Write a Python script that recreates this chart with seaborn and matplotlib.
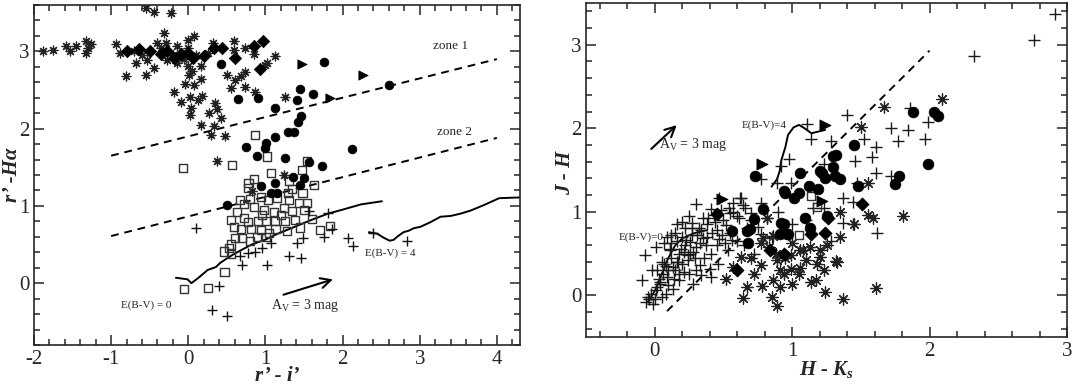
import numpy as np
import seaborn as sns
import matplotlib.pyplot as plt
from matplotlib.ticker import MultipleLocator

# ---------------- left panel: r' - i' vs r' - Halpha ----------------
left_star_x = [-1.88, -1.76, -1.59, -1.53, -1.45, -1.32, -1.30, -1.32, -1.26, -0.94, -0.89, -0.68,
               -0.55, -0.81, -0.53, -0.45, -0.40, -0.32, -0.29, -0.27, -0.19, -0.10, 0.02, 0.03,
               0.02, 0.12, 0.18, -0.04, 0.07, 0.16, 0.16, -0.01, 0.01, -0.01, 0.07, 0.16, 0.29,
               0.27, 0.35, 0.37, 0.33, 0.42, 0.48, 0.50, 0.55, 0.61, 0.68, 0.74, 0.74, 0.87, 0.59,
               0.59, 0.74, 0.85, 1.02, 0.32, -0.55, -0.44, -0.23, 0.37, -0.08, -0.14, 1.12, 1.00,
               1.26, 1.24, -0.70, -0.60, -0.20, -0.05, 0.10, 0.25, -0.35, 0.00, -0.15, 0.05, 0.83]
left_star_y = [3.01, 3.02, 3.07, 3.00, 3.07, 3.13, 3.04, 2.98, 3.09, 3.10, 2.98, 2.85,
               2.69, 2.68, 2.89, 2.78, 3.11, 3.24, 3.11, 2.89, 2.47, 2.35, 2.41, 2.27,
               2.18, 2.37, 2.42, 2.58, 2.57, 2.64, 2.81, 2.81, 2.70, 3.15, 3.20, 2.05, 1.92,
               2.20, 2.33, 2.25, 2.04, 2.14, 1.90, 2.70, 2.53, 2.63, 2.68, 2.73, 2.54, 2.48, 3.13,
               3.02, 3.04, 2.96, 2.85, 3.11, 3.56, 3.51, 3.50, 1.58, 2.98, 3.07, 2.94, 2.83,
               2.41, 1.40, 3.00, 2.95, 2.95, 2.90, 2.95, 2.98, 3.05, 3.05, 2.85, 2.75, 1.19]

left_diam_x = [-0.79, -0.64, -0.49, -0.36, -0.27, -0.10, 0.06, 0.21, 0.33, 0.44, 0.61, 0.85, 0.97, 0.93, -0.18, 0.00]
left_diam_y = [3.01, 3.03, 3.00, 2.96, 3.00, 2.96, 2.91, 2.94, 3.04, 3.04, 2.91, 3.07, 3.13, 2.77, 2.92, 2.98]

left_circ_x = [0.42, 0.64, 0.91, 1.76, 2.60, 1.45, 1.62, 1.41, 1.13, 1.46, 1.42, 1.29, 1.37, 1.12, 1.01,
               0.99, 0.75, 0.89, 1.25, 2.12, 1.57, 1.73, 0.94, 1.13, 1.36, 1.50, 1.07, 1.15, 1.45, 0.50]
left_circ_y = [2.84, 2.38, 2.40, 2.86, 2.57, 2.51, 2.45, 2.37, 2.27, 2.17, 2.08, 1.96, 1.96, 1.89, 1.81,
               1.75, 1.76, 1.64, 1.62, 1.74, 1.57, 1.52, 1.26, 1.30, 1.38, 1.36, 1.17, 1.17, 1.27, 1.01]

left_tri_x = [1.48, 2.27, 1.84]
left_tri_y = [2.84, 2.70, 2.40]

left_sq_x = [-0.07, 0.57, 0.87, 1.02, 1.54, 1.07, 1.31, 0.78, 0.85, 0.77, 0.67, 0.80, 0.94, 1.03, 1.35,
             1.48, 1.63, 1.54, 1.43, 0.63, 0.85, 0.98, 1.11, 1.24, 1.35, 0.55, 0.72, 0.77, 0.90, 1.01,
             1.12, 1.25, 1.38, 1.60, 0.59, 0.68, 0.81, 0.94, 1.13, 1.28, 1.84, 1.71, 0.60, 0.70, 0.80,
             0.89, 1.01, 0.55, 0.53, 0.46, 0.55, 0.47, -0.05, 0.25, 1.47, 1.29, 1.15, 1.20, 0.72, 1.45,
             1.05, 0.95, 1.30, 1.50]
left_sq_y = [1.49, 1.53, 1.92, 1.64, 1.58, 1.43, 1.32, 1.30, 1.35, 1.23, 1.08, 1.09, 1.12, 1.08, 1.22,
             1.17, 1.27, 1.04, 1.04, 0.92, 0.99, 0.95, 0.92, 0.97, 0.93, 0.82, 0.84, 0.79, 0.80, 0.80,
             0.81, 0.80, 0.82, 0.83, 0.73, 0.70, 0.70, 0.69, 0.70, 0.67, 0.74, 0.69, 0.58, 0.58, 0.55,
             0.60, 0.60, 0.50, 0.45, 0.41, 0.38, 0.14, -0.08, -0.06, 1.47, 1.17, 1.10, 0.88, 1.02, 0.72,
             0.65, 0.88, 1.08, 0.95]

left_plus_x = [0.10, 1.57, 1.81, 1.86, 1.76, 1.49, 1.41, 1.30, 1.46, 1.02, 0.70, 0.77, 0.87, 0.96,
               1.07, 0.67, 2.07, 2.14, 2.39, 2.84, 0.40, 0.31, 0.50]
left_plus_y = [0.71, 0.93, 0.91, 0.70, 0.60, 0.58, 0.52, 0.35, 0.32, 0.24, 0.24, 0.39, 0.41, 0.45,
               0.52, 0.35, 0.58, 0.48, 0.65, 0.55, -0.03, -0.35, -0.43]

# zone boundaries
zone1_x = [-1.0, 4.0]
zone1_y = [1.65, 2.90]
zone2_x = [-1.0, 4.0]
zone2_y = [0.61, 1.88]

# unreddened track (E(B-V)=0) and reddened track (E(B-V)=4)
ms0_x = [-0.16, -0.01, 0.04, 0.12, 0.25, 0.36, 0.41, 0.50, 0.58, 0.69, 0.82, 0.99, 1.16, 1.38,
         1.60, 1.81, 2.03, 2.24, 2.51]
ms0_y = [0.07, 0.05, 0.00, 0.06, 0.17, 0.21, 0.26, 0.32, 0.37, 0.43, 0.50, 0.56, 0.64, 0.73,
         0.82, 0.90, 0.96, 1.02, 1.06]
ms4_x = [2.34, 2.45, 2.53, 2.61, 2.66, 2.72, 2.79, 2.86, 2.92, 3.01, 3.14, 3.27, 3.40, 3.53,
         3.66, 3.83, 4.03, 4.31]
ms4_y = [0.66, 0.64, 0.59, 0.55, 0.56, 0.61, 0.66, 0.68, 0.71, 0.73, 0.79, 0.86, 0.87, 0.90,
         0.94, 1.01, 1.10, 1.11]

# ---------------- right panel: H - Ks vs J - H ----------------
right_plus_x = [2.91, 2.76, 2.32, 1.40, 1.86, 1.72, 1.84, 1.77, 1.99, 1.97, 1.61, 1.52, 1.58, 1.46,
                1.61, 1.72, 1.28, 1.14, 1.23, 1.47, 1.37, 1.11, 0.98, 0.92, 0.89, 0.99, 0.77, 0.62,
                0.47, 1.44, 1.28, 1.62, 1.44, 1.37, 1.23,
                0.30, 0.16, -0.07, 0.01, -0.09, 0.63, 0.77, 0.57, 0.41, 0.35, 0.27, 0.67, 0.77, 0.60,
                0.47, 0.53, 0.41, 0.41, 0.33, 0.24, 0.28, 0.33, 0.16, 0.09, 0.11, 0.05, 0.13, 0.21,
                0.09, 0.04, 0.01, -0.04, -0.06, -0.01,
                0.15, 0.20, 0.22, 0.18, 0.12, 0.08, 0.15, 0.25, 0.06, 0.02, 0.10, 0.18, 0.30, 0.20,
                0.26, 0.30, 0.38, 0.45, 0.50, 0.55, 0.22, 0.12, 0.05, -0.03, 0.36, 0.45, 0.60, 0.70,
                0.38, 0.25, 0.55, 0.65, 0.72, 1.00, 1.10, 1.15, 0.90, 0.85, -0.02,
                0.03, 0.07, 0.11, 0.14, 0.17, 0.19, 0.23, 0.27, 0.29, 0.32, 0.35, 0.39, 0.43, 0.48,
                0.52, 0.57, 0.61, 0.66, 0.08, 0.13, 0.18, 0.24, 0.28, 0.34, 0.40, 0.46, 0.51, 0.56,
                0.00, 0.04, 0.10, 0.16, 0.21, 0.26, 0.31, 0.37, 0.42, 0.49, -0.05, 0.02, 0.07, 0.12,
                0.20, 0.27, 0.34, 0.44, 0.54, 0.64, 0.70, 0.75, 0.82]
right_plus_y = [3.37, 3.06, 2.86, 2.16, 2.24, 2.00, 1.98, 1.85, 2.08, 1.87, 1.77, 1.87, 1.66, 1.61,
                1.47, 1.43, 1.85, 1.87, 1.57, 1.35, 1.17, 2.05, 1.63, 1.55, 1.35, 1.34, 1.39, 1.17,
                1.17, 1.12, 0.65, 0.75, 0.85, 0.87, 1.05,
                1.09, 0.85, 0.48, 0.58, 0.18, 1.17, 1.11, 1.11, 1.03, 0.93, 0.87, 0.81, 0.73, 0.65,
                0.67, 0.54, 0.50, 0.22, 0.36, 0.42, 0.52, 0.62, 0.65, 0.70, 0.54, 0.40, 0.34, 0.28,
                0.22, 0.14, 0.06, -0.04, -0.08, -0.10,
                0.75, 0.70, 0.60, 0.50, 0.45, 0.35, 0.30, 0.25, 0.25, 0.10, 0.12, 0.18, 0.30, 0.38,
                0.50, 0.58, 0.70, 0.78, 0.90, 0.98, 0.80, 0.62, -0.02, 0.02, 0.45, 0.60, 0.95, 0.90,
                0.85, 0.95, 0.75, 0.60, 0.50, 0.85, 0.90, 1.05, 1.00, 0.70, 0.30,
                0.20, 0.38, 0.55, 0.20, 0.40, 0.55, 0.66, 0.72, 0.45, 0.80, 0.68, 0.92, 0.96, 1.02,
                0.84, 1.00, 0.92, 1.04, 0.02, 0.08, 0.26, 0.48, 0.14, 0.24, 0.32, 0.38, 0.62, 0.66,
                -0.05, 0.16, 0.30, 0.40, 0.52, 0.64, 0.72, 0.60, 0.75, 0.72, -0.02, 0.30, 0.62, 0.72,
                0.88, 0.80, 0.78, 0.88, 1.05, 1.08, 0.98, 0.82, 0.92]

right_star_x = [2.09, 1.67, 1.50, 1.55, 1.81, 1.61, 1.37, 1.24, 1.17, 1.32, 1.35, 1.59, 1.55, 1.45,
                1.35, 1.20, 1.18, 0.64, 0.85, 0.89, 0.78, 1.00, 1.14, 0.52, 0.77, 0.86, 0.91, 0.99,
                1.06, 0.89, 0.99, 1.06, 1.13, 0.77, 0.83, 0.63, 0.57, 0.86, 0.82, 1.33, 0.91, 0.72,
                0.67, 0.79, 1.00, 1.08, 1.20, 1.23, 0.94, 1.05, 0.95, 1.10, 0.88, 0.70, 1.25]
right_star_y = [2.35, 2.26, 2.01, 1.34, 0.95, 0.09, -0.04, 0.04, 0.18, 0.41, 0.70, 0.92, 0.96, 0.85,
                1.00, 0.54, 0.38, -0.03, -0.02, -0.13, 0.11, 0.13, 0.16, 0.19, 0.36, 0.18, 0.30, 0.32,
                0.33, 0.42, 0.48, 0.54, 0.58, 0.63, 0.58, 0.46, 0.34, 0.71, 0.93, 0.40, 0.10, 0.26,
                0.10, 0.69, 0.62, 0.54, 0.46, 0.30, 0.26, 0.25, 0.45, 0.42, 0.50, 0.45, 0.60]

right_circ_x = [1.88, 2.03, 2.06, 1.45, 1.32, 1.30, 1.30, 1.22, 1.24, 1.31, 1.35, 1.78, 1.75, 1.99,
                1.48, 1.19, 0.73, 1.06, 0.94, 1.05, 1.12, 1.01, 0.79, 1.09, 0.92, 1.25, 0.72, 0.69,
                0.67, 0.91, 0.96, 1.13, 0.68, 0.56, 0.94, 0.97, 0.95, 1.20]
right_circ_y = [2.19, 2.19, 2.15, 1.80, 1.68, 1.67, 1.53, 1.47, 1.41, 1.43, 1.39, 1.43, 1.33, 1.57,
                1.31, 1.27, 1.43, 1.47, 1.25, 1.23, 1.31, 1.17, 1.03, 0.93, 0.87, 0.95, 0.91, 0.79,
                0.77, 0.73, 0.73, 0.81, 0.63, 0.77, 0.85, 0.73, 1.23, 1.49]

right_diam_x = [0.45, 0.60, 0.84, 0.94, 1.26, 1.14, 1.51, 1.24]
right_diam_y = [0.97, 0.30, 0.54, 0.49, 0.93, 0.73, 1.09, 0.75]

right_tri_x = [1.24, 0.78, 1.22, 0.49]
right_tri_y = [2.04, 1.57, 1.13, 1.15]

right_sq_x = [1.14, 1.18, 1.05]
right_sq_y = [1.19, 1.06, 0.72]

redline_x = [0.09, 2.0]
redline_y = [-0.19, 2.93]

nir0_x = [-0.05, 0.00, 0.05, 0.10, 0.15, 0.20, 0.28, 0.38]
nir0_y = [-0.08, 0.05, 0.25, 0.45, 0.60, 0.68, 0.74, 0.78]
nir4_x = [0.85, 0.89, 0.91, 0.92, 0.95, 0.97, 1.01, 1.05, 1.09, 1.14, 1.19, 1.24]
nir4_y = [1.30, 1.39, 1.49, 1.61, 1.77, 1.92, 2.01, 2.04, 2.00, 1.94, 1.96, 1.98]

sns.set_style("ticks")
plt.rcParams['font.family'] = ['Liberation Serif', 'DejaVu Serif']
plt.rcParams['axes.unicode_minus'] = False
plt.rcParams['mathtext.fontset'] = 'custom'
plt.rcParams['mathtext.rm'] = 'Liberation Serif'
plt.rcParams['mathtext.it'] = 'Liberation Serif:italic'
plt.rcParams['mathtext.bf'] = 'Liberation Serif:bold:italic'

ASTER = (8, 2, 0)

fig = plt.figure(figsize=(10.72, 3.84), dpi=100)
ax1 = fig.add_axes([34 / 1072, 39 / 384, 486 / 1072, 340 / 384])
ax2 = fig.add_axes([586 / 1072, 47 / 384, 481 / 1072, 334 / 384])


def pts(ax, x, y, marker, s, lw=1.0, filled=True, open_edge=None, color='#111111'):
    if open_edge is not None:
        sns.scatterplot(x=x, y=y, ax=ax, marker=marker, s=s, facecolor='none',
                        edgecolor=open_edge, linewidth=lw, zorder=3)
    elif filled:
        sns.scatterplot(x=x, y=y, ax=ax, marker=marker, s=s, color='k',
                        edgecolor='k', linewidth=0.5, zorder=3)
    else:
        sns.scatterplot(x=x, y=y, ax=ax, marker=marker, s=s, color=color,
                        linewidth=lw, zorder=3)


def curve(ax, x, y, **kw):
    sns.lineplot(x=x, y=y, ax=ax, sort=False, estimator=None, color='k', **kw)


# left panel
pts(ax1, left_sq_x, left_sq_y, 's', 34, lw=1.0, open_edge='#333333')
pts(ax1, left_plus_x, left_plus_y, '+', 45, lw=1.0, filled=False)
pts(ax1, left_star_x, left_star_y, ASTER, 40, lw=0.9, filled=False, color='#222222')
pts(ax1, left_diam_x, left_diam_y, 'D', 40)
pts(ax1, left_circ_x, left_circ_y, 'o', 40)
pts(ax1, left_tri_x, left_tri_y, '>', 45)

curve(ax1, zone1_x, zone1_y, linestyle=(0, (4, 3)), linewidth=1.4)
curve(ax1, zone2_x, zone2_y, linestyle=(0, (4, 3)), linewidth=1.4)
curve(ax1, ms0_x, ms0_y, linewidth=1.4)
curve(ax1, ms4_x, ms4_y, linewidth=1.4)

ax1.annotate('', xy=(1.91, 0.06), xytext=(1.20, -0.16),
             arrowprops=dict(arrowstyle='->', color='k', lw=1.5, mutation_scale=18))
ax1.text(1.52, -0.29, 'A$_\\mathregular{V}$ = 3 mag', fontsize=10, ha='center', va='center')
ax1.text(-0.55, -0.29, 'E(B-V) = 0', fontsize=8, ha='center', va='center')
ax1.text(2.62, 0.39, 'E(B-V) = 4', fontsize=8, ha='center', va='center')
ax1.text(3.40, 3.07, 'zone 1', fontsize=9.5, ha='center', va='center')
ax1.text(3.45, 1.96, 'zone 2', fontsize=9.5, ha='center', va='center')

ax1.set_xlim(-2, 4.3)
ax1.set_ylim(-0.8, 3.6)
ax1.set_xlabel('r’ - i’', fontsize=15, fontweight='bold', fontstyle='italic')
ax1.set_ylabel('r’ -Hα', fontsize=15, fontweight='bold', fontstyle='italic')
ax1.xaxis.set_label_coords(0.5, -0.062)
ax1.yaxis.set_label_coords(-0.025, 0.5)

# right panel
pts(ax2, right_plus_x, right_plus_y, '+', 75, lw=1.0, filled=False, color='#1a1a1a')
pts(ax2, right_star_x, right_star_y, ASTER, 65, lw=0.9, filled=False, color='#222222')
pts(ax2, right_sq_x, right_sq_y, 's', 34, lw=1.0, open_edge='#333333')
pts(ax2, right_circ_x, right_circ_y, 'o', 60)
pts(ax2, right_diam_x, right_diam_y, 'D', 45)
pts(ax2, right_tri_x, right_tri_y, '>', 65)

curve(ax2, redline_x, redline_y, linestyle=(0, (4, 3)), linewidth=1.4)
curve(ax2, nir0_x, nir0_y, linewidth=1.3)
curve(ax2, nir4_x, nir4_y, linewidth=1.4)

ax2.annotate('', xy=(0.175, 2.06), xytext=(-0.04, 1.73),
             arrowprops=dict(arrowstyle='->', color='k', lw=1.5, mutation_scale=18))
ax2.text(0.28, 1.80, 'A$_\\mathregular{V}$ = 3 mag', fontsize=10, ha='center', va='center')
ax2.text(0.80, 2.04, 'E(B-V)=4', fontsize=8, ha='center', va='center')
ax2.text(-0.10, 0.69, 'E(B-V)=0', fontsize=8, ha='center', va='center')

ax2.set_xlim(-0.5, 3.0)
ax2.set_ylim(-0.5, 3.5)
ax2.set_xlabel('H - K$_\\mathregular{s}$', fontsize=15, fontweight='bold', fontstyle='italic')
ax2.set_ylabel('J - H', fontsize=15, fontweight='bold', fontstyle='italic')
ax2.xaxis.set_label_coords(0.5, -0.066)
ax2.yaxis.set_label_coords(-0.023, 0.49)

for ax in (ax1, ax2):
    ax.xaxis.set_major_locator(MultipleLocator(1))
    ax.yaxis.set_major_locator(MultipleLocator(1))
    ax.xaxis.set_minor_locator(MultipleLocator(0.2))
    ax.yaxis.set_minor_locator(MultipleLocator(0.2))
    ax.tick_params(which='both', direction='in', top=True, right=True, labelsize=15, width=1.1)
    ax.tick_params(which='major', length=7, pad=3.5)
    ax.tick_params(which='minor', length=4)
    for sp in ax.spines.values():
        sp.set_linewidth(1.2)
        sp.set_visible(True)
    ax.set_facecolor('white')

fig.savefig('out.png', dpi=100)
